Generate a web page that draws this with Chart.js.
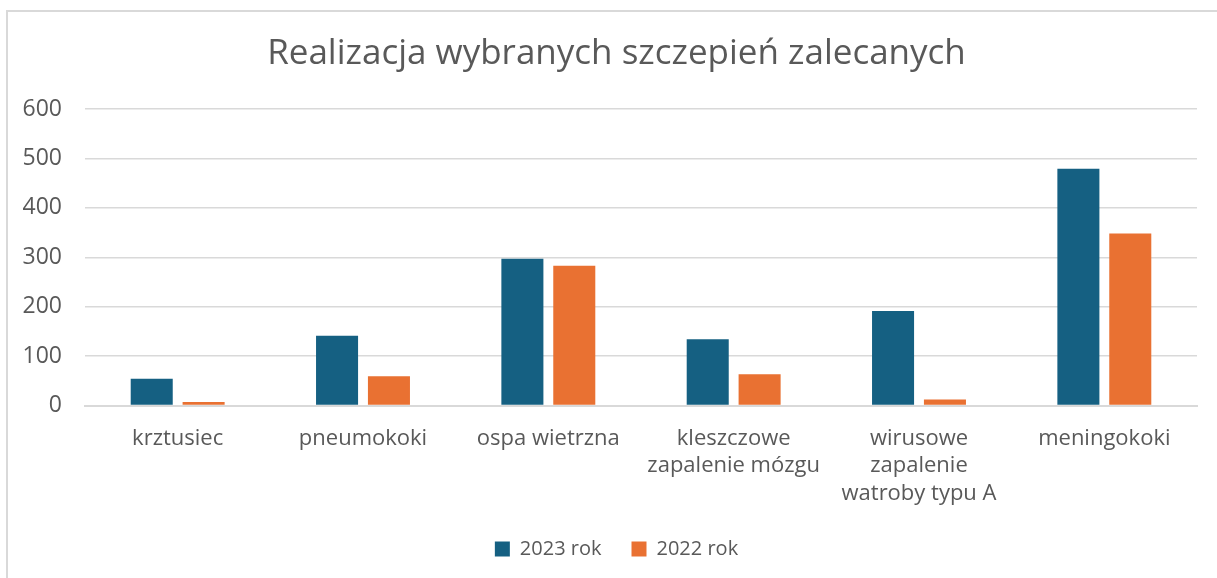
<!DOCTYPE html>
<html>
<head>
<meta charset="utf-8">
<script src="https://cdn.jsdelivr.net/npm/chart.js@4/dist/chart.umd.min.js"></script>
<style>
  html, body { margin: 0; padding: 0; background: #fff; overflow: hidden; }
  #frame {
    position: absolute; left: 6px; top: 10px;
    width: 1240px; height: 620px;
    border: 2px solid #d9d9d9; box-sizing: border-box;
  }
  #wrap { position: absolute; left: 0; top: 0; width: 1217px; height: 578px; }
</style>
</head>
<body>
<div id="frame"></div>
<div id="wrap"><canvas id="vaxChart" width="1217" height="578"></canvas></div>
<script>
    // dane
    const categories = [
        'krztusiec',
        'pneumokoki',
        'ospa wietrzna',
        ['kleszczowe', 'zapalenie mózgu'],
        ['wirusowe', 'zapalenie', 'watroby typu A'],
        'meningokoki'
    ];
    const values2023 = [54, 141, 297, 134, 191, 479];
    const values2022 = [7, 59, 283, 63, 12, 348];
    const yTicks = [0, 100, 200, 300, 400, 500, 600];

    const txt = '#595959';
    const gridCol = '#d9d9d9';
    const fontFam = '"Open Sans", "Liberation Sans", sans-serif';

    const ctx = document.getElementById('vaxChart').getContext('2d');
    const myChart = new Chart(ctx, {
        type: 'bar',
        data: {
            labels: categories,
            datasets: [
                { label: '2023 rok', data: values2023, backgroundColor: '#156082',
                  categoryPercentage: 0.56, barPercentage: 0.81 },
                { label: '2022 rok', data: values2022, backgroundColor: '#E97132',
                  categoryPercentage: 0.56, barPercentage: 0.81 }
            ]
        },
        options: {
            responsive: false,
            animation: false,
            layout: { padding: { left: 17, right: 1, top: 21, bottom: 9 } },
            plugins: {
                title: {
                    display: true,
                    text: 'Realizacja wybranych szczepień zalecanych',
                    color: txt,
                    font: { family: fontFam, size: 35, weight: 'normal', lineHeight: 1.2 },
                    padding: { top: 12, bottom: 34 }
                },
                legend: {
                    position: 'bottom',
                    labels: {
                        color: txt, boxWidth: 15, boxHeight: 15, padding: 30,
                        font: { family: fontFam, size: 20 }
                    }
                },
                tooltip: { enabled: false }
            },
            scales: {
                x: {
                    grid: { display: false },
                    border: { color: gridCol, width: 2 },
                    ticks: { color: txt, font: { family: fontFam, size: 22, lineHeight: 1.25 }, padding: 11, maxRotation: 0 },
                    afterFit: (scale) => { scale.height -= 9; }
                },
                y: {
                    min: 0, max: 600,
                    afterBuildTicks: (axis) => { axis.ticks = yTicks.map(v => ({ value: v })); },
                    grid: { color: gridCol, lineWidth: 1.5, drawTicks: false },
                    border: { display: false },
                    ticks: { color: txt, font: { family: fontFam, size: 23 }, padding: 23 },
                    afterFit: (scale) => { scale.width = 68; }
                },
                // pusta oś po prawej - tylko odstęp
                yR: {
                    position: 'right',
                    display: true,
                    grid: { display: false },
                    border: { display: false },
                    ticks: { display: false },
                    afterFit: (scale) => { scale.width = 19; }
                }
            }
        }
    });
</script>
</body>
</html>
